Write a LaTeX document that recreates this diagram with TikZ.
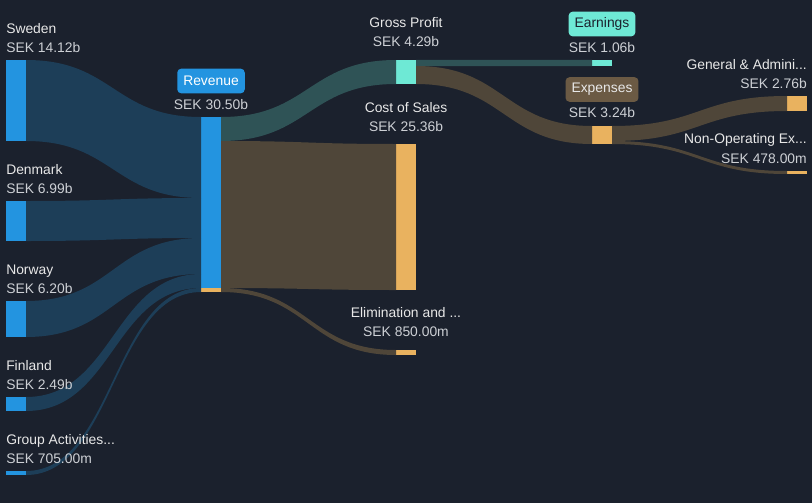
\documentclass[tikz,border=0pt]{standalone}
\usepackage{fontspec}
\setmainfont{Liberation Sans}
\usepackage{xcolor}
\usetikzlibrary{positioning}
\usetikzlibrary{calc}
\definecolor{bgc}{HTML}{1B212D}
\definecolor{barblue}{HTML}{2394E0}
\definecolor{barteal}{HTML}{6EE9D5}
\definecolor{barorange}{HTML}{E9B25F}
\definecolor{flowblue}{HTML}{1D3E58}
\definecolor{flowteal}{HTML}{2F5356}
\definecolor{flowbrown}{HTML}{4F4639}
\definecolor{expbox}{HTML}{6B5A44}
\definecolor{namec}{HTML}{E8E8E8}
\definecolor{valc}{HTML}{CDD0D5}

% band between two bars, offsets counted from the top of each bar
\newcommand{\sankeyflow}[7]{%
\fill[#7] let \p1=(#1.north east), \p2=(#4.north west), \p3=($(\p1)!0.5!(\p2)$) in
  (\x1,{\y1-#2*0.75pt}) .. controls (\x3,{\y1-#2*0.75pt}) and (\x3,{\y2-#5*0.75pt}) .. (\x2,{\y2-#5*0.75pt})
  -- (\x2,{\y2-#6*0.75pt}) .. controls (\x3,{\y2-#6*0.75pt}) and (\x3,{\y1-#3*0.75pt}) .. (\x1,{\y1-#3*0.75pt}) -- cycle;}

\tikzset{
  sbar/.style={inner sep=0pt, outer sep=0pt, minimum width=15pt, draw=none},
  bh/.style={minimum height=#1*0.75pt},
  lblname/.style={inner sep=0pt, text=namec, font=\fontsize{10.4}{12}\selectfont},
  lblval/.style={inner sep=0pt, text=valc, font=\fontsize{10.4}{12}\selectfont},
  lbltag/.style={rounded corners=3pt, inner xsep=4.5pt, minimum height=18.5pt, font=\fontsize{10.4}{12}\selectfont}
}

\begin{document}
\begin{tikzpicture}[x=0.75pt,y=-0.75pt]
\fill[bgc] (0,0) rectangle (812,503);
\useasboundingbox (0,0) rectangle (812,503);
% bars
\node[sbar, bh=81, fill=barblue] (swe) at (16,100.5) {};
\node[sbar, bh=40, fill=barblue] (den) at (16,221) {};
\node[sbar, bh=36, fill=barblue] (nor) at (16,319) {};
\node[sbar, bh=14, fill=barblue] (fin) at (16,404) {};
\node[sbar, bh=4, fill=barblue] (grp) at (16,473) {};
\node[sbar, bh=175, fill=barblue] (rev) at (211,204.5) {};
\node[sbar, bh=4, fill=barorange] (revx) at (211,290) {};
\node[sbar, bh=24, fill=barteal] (gp) at (406,72) {};
\node[sbar, bh=146, fill=barorange] (cos) at (406,217) {};
\node[sbar, bh=5, fill=barorange] (elim) at (406,352.5) {};
\node[sbar, bh=6, fill=barteal] (earn) at (602,63) {};
\node[sbar, bh=18, fill=barorange] (exp) at (602,135) {};
\node[sbar, bh=15, fill=barorange] (ga) at (797,103.5) {};
\node[sbar, bh=3, fill=barorange] (nonop) at (797,172.5) {};
% flows
\sankeyflow{swe}{0}{81}{rev}{0}{81}{flowblue}
\sankeyflow{den}{0}{40}{rev}{81}{121}{flowblue}
\sankeyflow{nor}{0}{36}{rev}{121}{157}{flowblue}
\sankeyflow{fin}{0}{14}{rev}{157}{171}{flowblue}
\sankeyflow{grp}{0}{4}{rev}{171}{175}{flowblue}
\sankeyflow{rev}{0}{24}{gp}{0}{24}{flowteal}
\sankeyflow{rev}{24}{171}{cos}{0}{146}{flowbrown}
\sankeyflow{rev}{171}{175}{elim}{0}{5}{flowbrown}
\sankeyflow{gp}{0}{6}{earn}{0}{6}{flowteal}
\sankeyflow{gp}{6}{24}{exp}{0}{18}{flowbrown}
\sankeyflow{exp}{0}{15}{ga}{0}{15}{flowbrown}
\sankeyflow{exp}{15}{18}{nonop}{0}{3}{flowbrown}
% left labels
\node[lblname, anchor=west] (swename) at (6,29) {Sweden};
\node[lblval, anchor=west] (sweval) at (6,48) {SEK 14.12b};
\node[lblname, anchor=west] (denname) at (6,170) {Denmark};
\node[lblval, anchor=west] (denval) at (6,189) {SEK 6.99b};
\node[lblname, anchor=west] (norname) at (6,271) {Norway};
\node[lblval, anchor=west] (norval) at (6,289) {SEK 6.20b};
\node[lblname, anchor=west] (finname) at (6,366) {Finland};
\node[lblval, anchor=west] (finval) at (6,385) {SEK 2.49b};
\node[lblname, anchor=west] (grpname) at (6,441) {Group Activities...};
\node[lblval, anchor=west] (grpval) at (6,459) {SEK 705.00m};
% middle labels
\node[lbltag, fill=barblue, text=white] (revname) at (211,81) {Revenue};
\node[lblval] (revval) at (211,105) {SEK 30.50b};
\node[lblname] (gpname) at (406,23) {Gross Profit};
\node[lblval] (gpval) at (406,42) {SEK 4.29b};
\node[lblname] (cosname) at (406,108) {Cost of Sales};
\node[lblval] (cosval) at (406,127) {SEK 25.36b};
\node[lblname] (elimname) at (406,313) {Elimination and ...};
\node[lblval] (elimval) at (406,332) {SEK 850.00m};
\node[lbltag, fill=barteal, text=bgc] (earnname) at (602,24) {Earnings};
\node[lblval] (earnval) at (602,48) {SEK 1.06b};
\node[lbltag, fill=expbox, text=namec] (expname) at (602,89.5) {Expenses};
\node[lblval] (expval) at (602,113) {SEK 3.24b};
% right labels
\node[lblname, anchor=east] (ganame) at (807,65) {General \& Admini...};
\node[lblval, anchor=east] (gaval) at (807,84) {SEK 2.76b};
\node[lblname, anchor=east] (nonopname) at (807,140) {Non-Operating Ex...};
\node[lblval, anchor=east] (nonopval) at (807,159) {SEK 478.00m};
\end{tikzpicture}
\end{document}
